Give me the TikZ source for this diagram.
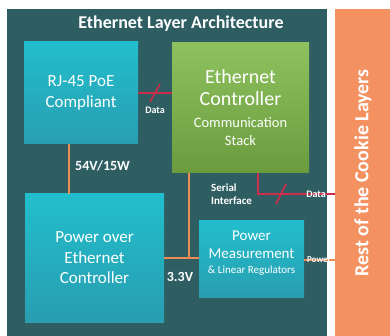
\documentclass[tikz,border=0pt]{standalone}
\usepackage{fontspec}
\setmainfont{Carlito}
\usetikzlibrary{calc}

\definecolor{panelteal}{RGB}{46,93,98}
\definecolor{restorange}{RGB}{244,145,96}
\definecolor{cyantop}{RGB}{34,190,205}
\definecolor{cyanbot}{RGB}{40,158,176}
\definecolor{greentop}{RGB}{142,193,94}
\definecolor{greenbot}{RGB}{106,156,62}
\definecolor{datared}{RGB}{204,45,75}
\definecolor{powerorange}{RGB}{238,140,85}

\begin{document}
\begin{tikzpicture}[x=1pt, y=-1pt]
        \tikzset{block/.style = {draw=none, text=white, align=center, inner sep=0pt},
                 cyanblock/.style = {block, top color=cyantop, bottom color=cyanbot},
                 greenblock/.style = {block, top color=greentop, bottom color=greenbot},
                 dataline/.style = {draw=datared, line width=1.6pt},
                 powerline/.style = {draw=powerorange, line width=1.8pt},
                 tag/.style = {text=white, inner sep=1pt, font=\bfseries}}

        \useasboundingbox (0, 0) rectangle (390, 336);

        \node[fill=panelteal, minimum width=320pt, minimum height=327pt] (layer) at (167, 172.5) {};
        \node[fill=restorange, minimum width=55pt, minimum height=327pt] (rest) at (362.5, 172.5) {};
        \node[text=white, rotate=90, font=\fontsize{20}{24}\bfseries\selectfont] (resttext) at (363, 173) {Rest of the Cookie Layers};

        \node[text=white, font=\fontsize{18}{22}\bfseries\selectfont] (title) at (181, 24) {Ethernet Layer Architecture};

        \node[cyanblock, minimum width=114pt, minimum height=102pt, font=\fontsize{17}{21}\selectfont] (rj) at (81, 93) {RJ-45 PoE\\Compliant};
        \node[greenblock, minimum width=137pt, minimum height=130pt, font=\fontsize{20}{22}\selectfont] (ec) at (240.5, 108)
            {Ethernet\\Controller\\{\fontsize{14.5}{18}\selectfont Communication}\\[-4pt]{\fontsize{14.5}{18}\selectfont Stack}};
        \node[cyanblock, minimum width=139pt, minimum height=128pt, font=\fontsize{17}{20.5}\selectfont] (poe) at (94.5, 258) {Power over\\Ethernet\\Controller};
        \node[cyanblock, minimum width=105pt, minimum height=76pt] (pm) at (251.5, 259) {};
        \node[text=white, align=center, inner sep=0pt, font=\fontsize{15}{18}\selectfont] (pmtext) at (251.5, 253)
            {Power\\Measurement\\[-3pt]{\fontsize{11}{13}\selectfont \& Linear Regulators}};

        % data between connector and controller
        \draw[dataline] (rj.east) -- (rj.east -| ec.west) coordinate[pos=0.5] (d1);
        \draw[dataline] ($(d1)+(-5,9)$) -- ($(d1)+(5,-9)$);
        \node[tag, font=\fontsize{10}{12}\bfseries\selectfont] (d1text) at (155, 110) {Data};

        % power supply
        \coordinate (vbus) at (69, 0);
        \draw[powerline] (rj.south -| vbus) -- (poe.north -| vbus);
        \node[tag, anchor=west, font=\fontsize{14}{16}\bfseries\selectfont] (vin) at (74, 166) {54V/15W};

        \coordinate (tap) at (189, 258);
        \draw[powerline] (poe.east) -- (poe.east -| pm.west);
        \draw[powerline] (ec.south -| tap) -- (tap);
        \node[tag, font=\fontsize{14}{16}\bfseries\selectfont] (vlow) at (180, 277) {3.3V};

        % serial interface out to the rest
        \coordinate (ser) at (258, 194);
        \draw[dataline] (ec.south -| ser) -- (ser) -- (ser -| rest.west);
        \draw[dataline] ($(281, 194)+(-5,10)$) -- ($(281, 194)+(5,-10)$);
        \node[tag, anchor=west, align=left, font=\fontsize{11}{13}\bfseries\selectfont] (sertext) at (210, 194) {Serial\\Interface};
        \node[tag, font=\fontsize{10}{12}\bfseries\selectfont] (d2text) at (316, 194) {Data};

        \draw[powerline] (pm.east |- 0, 260) -- (rest.west |- 0, 260);
        \node[tag, font=\fontsize{9}{10}\bfseries\selectfont] (pwtext) at (319, 260) {Power};

    \end{tikzpicture}
\end{document}
